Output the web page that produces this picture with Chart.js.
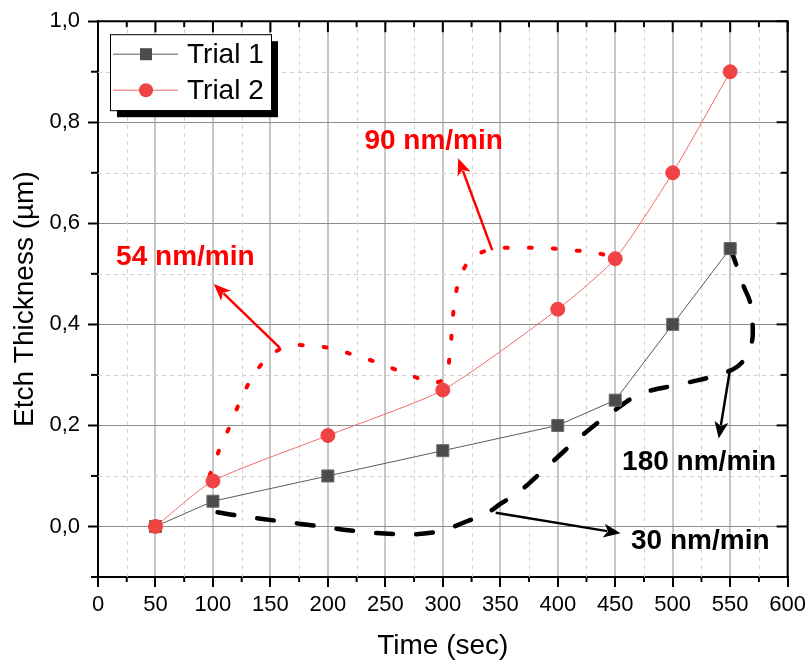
<!DOCTYPE html>
<html>
<head>
<meta charset="utf-8">
<script src="https://cdn.jsdelivr.net/npm/chart.js@4.4.1/dist/chart.umd.min.js"></script>
<style>
  html, body { margin: 0; padding: 0; background: #ffffff; }
  canvas { display: block; }
</style>
</head>
<body>
<canvas id="chart" width="811" height="666"></canvas>
<script>
// Measured etch thickness (µm) against etching time (s)
const timeSec = [50, 100, 200, 300, 400, 450, 500, 550];
const trial1 = [0, 0.05, 0.10, 0.15, 0.20, 0.25, 0.40, 0.55];
const trial2 = [0, 0.09, 0.18, 0.27, 0.43, 0.53, 0.70, 0.90];
const seriesNames = ['Trial 1', 'Trial 2'];

// Hand-drawn guide curves around the rate regions (data units)
const redGuideX = [97, 107, 116, 124, 133, 146, 163, 185, 205, 226, 246, 265, 285, 296, 303, 306, 308, 310, 314, 324, 343, 365, 390, 410, 430, 445];
const redGuideY = [0.10, 0.16, 0.205, 0.25, 0.29, 0.33, 0.355, 0.358, 0.351, 0.337, 0.322, 0.305, 0.289, 0.286, 0.30, 0.34, 0.39, 0.44, 0.484, 0.528, 0.549, 0.551, 0.551, 0.547, 0.543, 0.535];
const blackGuideX = [104, 126, 160, 197, 224, 259, 294, 323, 338, 351, 366, 392, 421, 449, 473, 510, 546, 560, 568.5, 569.5, 567.7, 561.6, 554.7, 551];
const blackGuideY = [0.028, 0.020, 0.010, -0.001, -0.009, -0.015, -0.011, 0.012, 0.026, 0.046, 0.068, 0.121, 0.180, 0.229, 0.263, 0.283, 0.305, 0.324, 0.362, 0.40, 0.441, 0.476, 0.522, 0.545];

// Rate labels and their pointer arrows (data units)
const rateLabels = ['54 nm/min', '90 nm/min', '180 nm/min', '30 nm/min'];
const rateLabelX = [76, 292, 523, 524];
const rateLabelY = [0.533, 0.762, 0.127, -0.029];
const arrowTailX = [158, 343, 550, 346];
const arrowTailY = [0.354, 0.547, 0.312, 0.027];
const arrowHeadX = [100.7, 313.4, 540, 454.6];
const arrowHeadY = [0.48, 0.729, 0.174, -0.0136];
const rateColors = ['#ff0000', '#ff0000', '#000000', '#000000'];

// Axis ticks
const xMajorTicks = [0, 50, 100, 150, 200, 250, 300, 350, 400, 450, 500, 550, 600];
const xMinorTicks = [25, 75, 125, 175, 225, 275, 325, 375, 425, 475, 525, 575];
const yMajorTicks = [0, 0.2, 0.4, 0.6, 0.8, 1.0];
const yMinorTicks = [-0.1, 0.1, 0.3, 0.5, 0.7, 0.9];

const FONT = '"Liberation Sans", Arial, sans-serif';

function pts(xs, ys) { return xs.map((x, i) => ({ x: x, y: ys[i] })); }

const overlay = {
  id: 'overlay',
  beforeDatasetsDraw(chart) {
    const { ctx, chartArea: a, scales: { x, y } } = chart;
    ctx.save();
    ctx.strokeStyle = '#cfcfcf';
    ctx.lineWidth = 1;
    ctx.setLineDash([4, 4]);
    xMinorTicks.forEach(v => {
      const px = Math.round(x.getPixelForValue(v)) + 0.5;
      ctx.beginPath(); ctx.moveTo(px, a.top); ctx.lineTo(px, a.bottom); ctx.stroke();
    });
    yMinorTicks.forEach(v => {
      if (v <= y.min) return;
      const py = Math.round(y.getPixelForValue(v)) + 0.5;
      ctx.beginPath(); ctx.moveTo(a.left, py); ctx.lineTo(a.right, py); ctx.stroke();
    });
    ctx.restore();
  },
  afterDatasetsDraw(chart) {
    const { ctx, chartArea: a, scales: { x, y } } = chart;
    ctx.save();
    // frame: top and right edges
    ctx.strokeStyle = '#000';
    ctx.lineWidth = 2;
    ctx.setLineDash([]);
    ctx.beginPath();
    ctx.moveTo(a.left - 1, a.top); ctx.lineTo(a.right, a.top); ctx.lineTo(a.right, a.bottom + 1);
    ctx.stroke();
    // tick marks: top and right point inward, minor ones on all sides
    const line = (x1, y1, x2, y2) => { ctx.beginPath(); ctx.moveTo(x1, y1); ctx.lineTo(x2, y2); ctx.stroke(); };
    xMajorTicks.forEach(v => { const px = x.getPixelForValue(v); line(px, a.top, px, a.top + 11); });
    xMinorTicks.forEach(v => {
      const px = x.getPixelForValue(v);
      line(px, a.top, px, a.top + 6);
      line(px, a.bottom, px, a.bottom + 5);
    });
    yMajorTicks.forEach(v => { const py = y.getPixelForValue(v); line(a.right, py, a.right - 11, py); });
    yMinorTicks.forEach(v => {
      const py = y.getPixelForValue(v);
      line(a.right, py, a.right - 7, py);
      line(a.left, py, a.left - 7, py);
    });

    // pointer arrows
    for (let i = 0; i < rateLabels.length; i++) {
      const x1 = x.getPixelForValue(arrowTailX[i]), y1 = y.getPixelForValue(arrowTailY[i]);
      const x2 = x.getPixelForValue(arrowHeadX[i]), y2 = y.getPixelForValue(arrowHeadY[i]);
      const ang = Math.atan2(y2 - y1, x2 - x1);
      const hl = 17, hw = 7;
      ctx.strokeStyle = rateColors[i];
      ctx.fillStyle = rateColors[i];
      ctx.lineWidth = 2.5;
      ctx.beginPath();
      ctx.moveTo(x1, y1);
      ctx.lineTo(x2 - Math.cos(ang) * hl * 0.8, y2 - Math.sin(ang) * hl * 0.8);
      ctx.stroke();
      ctx.beginPath();
      ctx.moveTo(x2, y2);
      ctx.lineTo(x2 - Math.cos(ang) * hl - Math.sin(ang) * hw, y2 - Math.sin(ang) * hl + Math.cos(ang) * hw);
      ctx.lineTo(x2 - Math.cos(ang) * hl * 0.75, y2 - Math.sin(ang) * hl * 0.75);
      ctx.lineTo(x2 - Math.cos(ang) * hl + Math.sin(ang) * hw, y2 - Math.sin(ang) * hl - Math.cos(ang) * hw);
      ctx.closePath();
      ctx.fill();
    }

    // rate labels
    ctx.font = 'bold 28px ' + FONT;
    ctx.textAlign = 'center';
    ctx.textBaseline = 'middle';
    for (let i = 0; i < rateLabels.length; i++) {
      ctx.fillStyle = rateColors[i];
      ctx.fillText(rateLabels[i], x.getPixelForValue(rateLabelX[i]), y.getPixelForValue(rateLabelY[i]));
    }

    // legend with drop shadow
    const lx = a.left + 12, ly = a.top + 13, lw = 161, lh = 76;
    ctx.fillStyle = '#000';
    ctx.fillRect(lx + 7, ly + 7, lw, lh);
    ctx.fillStyle = '#fff';
    ctx.fillRect(lx, ly, lw, lh);
    ctx.strokeStyle = '#000';
    ctx.lineWidth = 1;
    ctx.strokeRect(lx + 0.5, ly + 0.5, lw, lh);
    const rows = [ly + 20, ly + 56];
    chart.data.datasets.slice(0, 2).forEach((ds, i) => {
      const ry = rows[i];
      ctx.strokeStyle = ds.borderColor;
      ctx.lineWidth = 1;
      line(lx + 3, ry, lx + 68, ry);
      ctx.fillStyle = ds.pointBackgroundColor;
      if (ds.pointStyle === 'rect') {
        ctx.fillRect(lx + 36 - 6, ry - 6, 12, 12);
      } else {
        ctx.beginPath(); ctx.arc(lx + 36, ry, 7, 0, Math.PI * 2); ctx.fill();
      }
      ctx.fillStyle = '#000';
      ctx.font = '28px ' + FONT;
      ctx.textAlign = 'left';
      ctx.textBaseline = 'middle';
      ctx.fillText(ds.label, lx + 77, ry + 1);
    });
    ctx.restore();
  }
};

new Chart(document.getElementById('chart'), {
  type: 'line',
  data: {
    datasets: [
      {
        label: seriesNames[0],
        data: pts(timeSec, trial1),
        borderColor: '#5a5a5a',
        borderWidth: 1,
        pointStyle: 'rect',
        pointRadius: 8.5,
        pointBackgroundColor: '#4b4b4b',
        pointBorderColor: '#6a6a6a',
        pointBorderWidth: 1,
        tension: 0,
        order: 2
      },
      {
        label: seriesNames[1],
        data: pts(timeSec, trial2),
        borderColor: '#f26a6a',
        borderWidth: 1,
        pointStyle: 'circle',
        pointRadius: 7,
        pointBackgroundColor: '#f04444',
        pointBorderColor: '#f04444',
        pointBorderWidth: 1,
        tension: 0.2,
        order: 1
      },
      {
        label: 'red guide',
        data: pts(redGuideX, redGuideY),
        borderColor: '#ff0000',
        borderWidth: 4,
        borderDash: [3, 21],
        borderCapStyle: 'round',
        pointRadius: 0,
        tension: 0.4,
        order: 3
      },
      {
        label: 'black guide',
        data: pts(blackGuideX, blackGuideY),
        borderColor: '#000000',
        borderWidth: 4.5,
        borderDash: [17, 23],
        borderCapStyle: 'round',
        pointRadius: 0,
        tension: 0.4,
        order: 3
      }
    ]
  },
  options: {
    responsive: false,
    animation: false,
    devicePixelRatio: 1,
    layout: { padding: { left: 0, top: 20, right: 22, bottom: 0 } },
    plugins: { legend: { display: false }, tooltip: { enabled: false } },
    scales: {
      x: {
        type: 'linear',
        min: 0,
        max: 600,
        afterFit(s) { s.height = 89; },
        ticks: {
          stepSize: 50,
          includeBounds: false,
          autoSkip: false,
          maxRotation: 0,
          padding: 5,
          color: '#000',
          font: { family: FONT, size: 22 }
        },
        grid: { color: '#c6c6c6', lineWidth: 2, tickLength: 10, tickColor: '#000', tickWidth: 2 },
        border: { color: '#000', width: 2 },
        title: { display: true, text: 'Time (sec)', color: '#000', font: { family: FONT, size: 28 }, padding: { top: 0, bottom: 3 } }
      },
      y: {
        type: 'linear',
        min: -0.1,
        max: 1.0,
        afterFit(s) { s.width = 98; },
        ticks: {
          stepSize: 0.2,
          includeBounds: false,
          padding: 8,
          color: '#000',
          font: { family: FONT, size: 22 },
          callback: v => Number(v).toFixed(1).replace('.', ',')
        },
        grid: { color: '#8c8c8c', lineWidth: 1, tickLength: 10, tickColor: '#000', tickWidth: 2 },
        border: { color: '#000', width: 2 },
        title: { display: true, text: 'Etch Thickness (µm)', color: '#000', font: { family: FONT, size: 28 }, padding: { top: 8, bottom: 0 } }
      }
    }
  },
  plugins: [overlay]
});
</script>
</body>
</html>
